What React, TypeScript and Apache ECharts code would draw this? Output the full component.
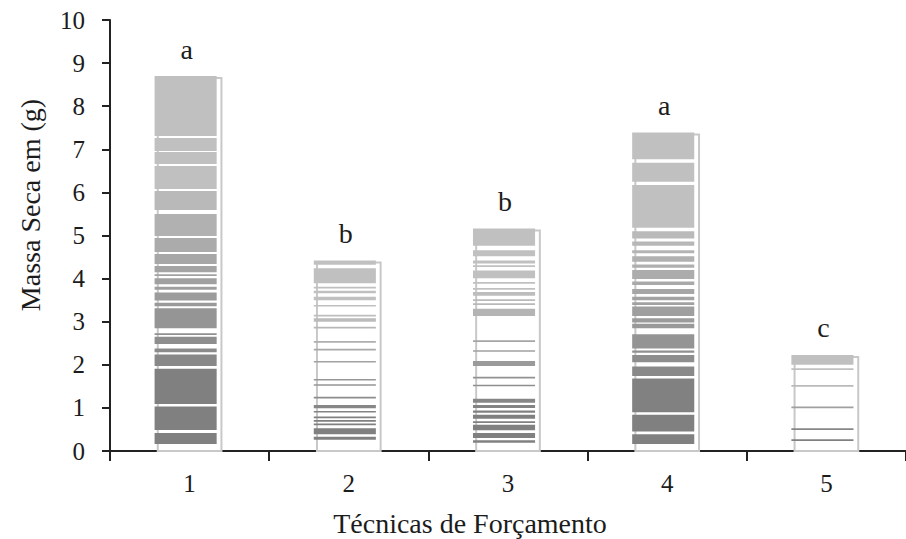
import React, { useEffect, useRef } from "react";
import * as echarts from "echarts";

const categories = ["1", "2", "3", "4", "5"];
const masses = [8.7, 4.42, 5.16, 7.39, 2.23];
const letters = ["a", "b", "b", "a", "c"];
const yTicks = [0, 1, 2, 3, 4, 5, 6, 7, 8, 9, 10];

// texture bands of each bar, [from, to] in grams
const bands1 = [[7.31, 8.7], [6.96, 7.26], [6.66, 6.94], [6.08, 6.61], [5.59, 6.03], [4.99, 5.5], [4.62, 4.94], [4.34, 4.57], [4.15, 4.29], [4.06, 4.1], [3.87, 4.01], [3.74, 3.81], [3.49, 3.68], [3.36, 3.44], [2.85, 3.31], [2.69, 2.73], [2.48, 2.65], [2.29, 2.38], [1.97, 2.24], [1.09, 1.91], [0.49, 1.03], [0.16, 0.42]];
const bands2 = [[4.32, 4.42], [3.89, 4.24], [3.77, 3.81], [3.66, 3.72], [3.5, 3.58], [3.36, 3.39], [3.12, 3.16], [3.0, 3.08], [2.86, 2.88], [2.52, 2.55], [2.34, 2.37], [2.06, 2.09], [1.64, 1.67], [1.52, 1.55], [1.22, 1.26], [0.99, 1.07], [0.9, 0.93], [0.76, 0.8], [0.68, 0.72], [0.6, 0.64], [0.39, 0.53], [0.26, 0.33]];
const bands3 = [[4.76, 5.16], [4.52, 4.66], [4.35, 4.42], [4.27, 4.31], [4.01, 4.19], [3.88, 3.92], [3.74, 3.78], [3.6, 3.69], [3.48, 3.52], [3.39, 3.43], [3.13, 3.3], [2.53, 2.57], [2.3, 2.34], [1.97, 2.09], [1.68, 1.72], [1.5, 1.54], [1.12, 1.21], [1.0, 1.07], [0.89, 0.94], [0.75, 0.84], [0.65, 0.69], [0.48, 0.61], [0.3, 0.42], [0.19, 0.25]];
const bands4 = [[6.77, 7.39], [6.25, 6.69], [5.18, 6.17], [4.93, 5.1], [4.76, 4.86], [4.59, 4.66], [4.39, 4.52], [4.25, 4.33], [3.99, 4.2], [3.85, 3.93], [3.64, 3.76], [3.5, 3.58], [3.39, 3.45], [3.13, 3.35], [2.98, 3.08], [2.85, 2.95], [2.38, 2.71], [2.28, 2.33], [2.06, 2.23], [1.74, 1.96], [0.9, 1.68], [0.45, 0.84], [0.16, 0.39]];
const bands5 = [[2.0, 2.23], [1.88, 1.92], [1.49, 1.53], [0.99, 1.03], [0.49, 0.53], [0.23, 0.27]];
const bands = [bands1, bands2, bands3, bands4, bands5];

const SERIF = '"Liberation Serif", "Times New Roman", serif';
const TEXT = "#1c1c1c";

function shade(f: number): string {
  const t = Math.max(0, Math.min(1, (f - 0.17) / (0.73 - 0.17)));
  const l = Math.round(128 + t * 64);
  return `rgb(${l},${l},${l})`;
}

export default function App() {
  const ref = useRef<HTMLDivElement>(null);
  useEffect(() => {
    document.body.style.margin = "0";
    const chart = echarts.init(ref.current!, null, { renderer: "svg" });
    chart.setOption({
      animation: false,
      backgroundColor: "#fff",
      grid: { left: 110, right: -4, top: 20, bottom: 88, containLabel: false },
      xAxis: {
        type: "category",
        data: categories,
        boundaryGap: true,
        axisLine: { lineStyle: { color: "#222", width: 2 } },
        axisTick: { show: true, alignWithLabel: false, length: 10, lineStyle: { color: "#222", width: 2 } },
        axisLabel: { color: TEXT, fontFamily: SERIF, fontSize: 25, margin: 20 },
      },
      yAxis: {
        type: "value",
        min: 0,
        max: 10,
        interval: 1,
        splitLine: { show: false },
        axisLine: { show: true, lineStyle: { color: "#222", width: 2 } },
        axisTick: { show: true, length: 8, lineStyle: { color: "#222", width: 2 } },
        axisLabel: {
          color: TEXT,
          fontFamily: SERIF,
          fontSize: 25,
          margin: 25,
          formatter: (v: number) => (yTicks.includes(v) ? String(v) : ""),
        },
      },
      graphic: [
        {
          type: "text",
          x: 30,
          y: 205,
          rotation: Math.PI / 2,
          style: { text: "Massa Seca em (g)", font: `28px ${SERIF}`, fill: TEXT, align: "center", verticalAlign: "middle" },
        },
        {
          type: "text",
          x: 470,
          y: 523,
          style: { text: "Técnicas de Forçamento", font: `28px ${SERIF}`, fill: TEXT, align: "center", verticalAlign: "middle" },
        },
      ],
      series: [
        {
          type: "custom",
          data: masses.map((m, i) => [i, m]),
          encode: { x: 0, y: 1 },
          renderItem: (params: any, api: any) => {
            const idx = api.value(0);
            const val = api.value(1);
            const base = api.coord([idx, 0]);
            const top = api.coord([idx, val]);
            const bandW = api.size([1, 0])[0];
            const cx = base[0];
            const frameL = cx - bandW * 0.2;
            const frameR = cx + bandW * 0.2;
            const fillL = cx - bandW * 0.22;
            const fillR = cx + bandW * 0.17;
            const children: any[] = [
              {
                type: "rect",
                shape: { x: frameL, y: top[1] + 2, width: frameR - frameL, height: base[1] - top[1] - 2 },
                style: { fill: "none", stroke: "#c8c8c8", lineWidth: 2 },
              },
            ];
            for (const [a, b] of bands[idx]) {
              const y1 = api.coord([idx, b])[1];
              const y2 = api.coord([idx, a])[1];
              children.push({
                type: "rect",
                shape: { x: fillL, y: y1, width: fillR - fillL, height: Math.max(1.6, y2 - y1) },
                style: { fill: shade((a + b) / 2 / val) },
              });
            }
            children.push({
              type: "text",
              x: cx - 3,
              y: top[1] - 27,
              style: { text: letters[idx], font: `28px ${SERIF}`, fill: TEXT, align: "center", verticalAlign: "middle" },
            });
            return { type: "group", children };
          },
        },
      ],
    });
    return () => chart.dispose();
  }, []);
  return <div ref={ref} style={{ width: 906, height: 539 }} />;
}
